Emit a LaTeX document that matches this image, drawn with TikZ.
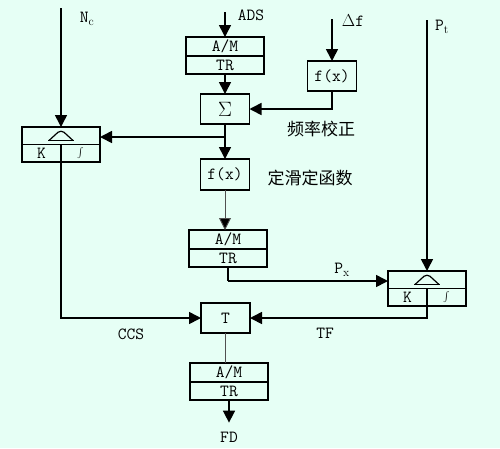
\documentclass[tikz,border=0pt]{standalone}
\usepackage{fontspec}
\usetikzlibrary{arrows.meta}
\newfontfamily\cjkf{Noto Sans CJK SC}
\definecolor{bg}{RGB}{230,255,245}
\definecolor{thinc}{RGB}{80,80,80}
\tikzset{
  box/.style={draw, line width=1.5pt, inner sep=0pt, outer sep=0pt, font=\ttfamily\fontsize{17}{17}\selectfont},
  wide/.style={minimum width=78pt},
  half/.style={minimum width=39pt, minimum height=17.5pt},
  small/.style={minimum width=49pt, minimum height=30pt},
  lbl/.style={inner sep=1pt, font=\ttfamily\fontsize{17}{17}\selectfont},
  cjk/.style={inner sep=1pt, font=\cjkf\fontsize{17}{17}\selectfont},
  ln/.style={line width=1.6pt},
  arr/.style={line width=1.6pt, -{Triangle[width=12pt,length=12pt]}},
  thinarr/.style={line width=0.9pt, draw=thinc, -{Triangle[width=12pt,length=12pt,fill=black]}},
  thinln/.style={line width=0.9pt, draw=thinc},
  hat/.style={line width=1.2pt}
}
\begin{document}
\begin{tikzpicture}[x=1pt,y=-1pt]
\fill[bg] (0,0) rectangle (500,448);
\useasboundingbox (0,0) rectangle (500,448);

% middle column
\node[box, wide, minimum height=19pt] (A1) at (225,46.5) {A/M};
\node[box, wide, minimum height=18pt] (A2) at (225,65) {TR};
\node[box, small, font=\fontsize{20}{20}\selectfont] (S) at (225,109) {$\Sigma$};
\node[box, small, minimum height=31pt] (F2) at (225,174.5) {f(x)};
\node[box, wide, minimum height=19pt] (M1) at (228,239.5) {A/M};
\node[box, wide, minimum height=18pt] (M2) at (228,258) {TR};
\node[box, small] (T) at (225.5,318) {T};
\node[box, wide, minimum height=19pt] (B1) at (229,372.5) {A/M};
\node[box, wide, minimum height=18pt] (B2) at (229,391) {TR};
\node[lbl] (FD) at (229,437) {FD};

% frequency correction block
\node[box, small] (F1) at (332,76) {f(x)};

% left integrator
\node[box, wide, minimum height=17.5pt] (Lt) at (61,135.75) {};
\node[box, half] (LK) at (41.5,153.25) {K};
\node[box, half, font=\fontsize{17}{17}\selectfont] (LI) at (80.5,153.25) {$\int$};

% right integrator
\node[box, wide, minimum height=17.5pt] (Rt) at (427,279.75) {};
\node[box, half] (RK) at (407.5,297.25) {K};
\node[box, half, font=\fontsize{17}{17}\selectfont] (RI) at (446.5,297.25) {$\int$};

% hats
\foreach \n in {Lt,Rt}{
  \draw[hat] ([shift={(-13,4.75)}]\n.center) -- ([shift={(13,4.75)}]\n.center);
  \draw[hat] ([shift={(-12,4.75)}]\n.center) -- ([shift={(-3,-3.5)}]\n.center)
     .. controls ([shift={(-1,-4.8)}]\n.center) and ([shift={(1,-4.8)}]\n.center) .. ([shift={(3,-3.5)}]\n.center) -- ([shift={(12,4.75)}]\n.center);
}

% labels
\node[lbl] (nc) at (87,19) {N$_{\mathrm{c}}$};
\node[lbl] (ads) at (251,15) {ADS};
\node[lbl] (df) at (353,21) {$\Delta$f};
\node[lbl] (pt) at (442,27) {P$_{\mathrm{t}}$};
\node[lbl] (px) at (342,270) {P$_{\mathrm{x}}$};
\node[lbl] (ccs) at (131,334) {CCS};
\node[lbl] (tf) at (325,333) {TF};
\node[cjk] (fc) at (321,129) {频率校正};
\node[cjk] (hf) at (310,178) {定滑定函数};

% connectors
\coordinate (ncs) at (61,8);
\draw[arr] (ncs) -- (Lt.north);
\coordinate (adss) at (225,12);
\draw[arr] (adss) -- (A1.north);
\draw[arr] (A2.south) -- (S.north);
\coordinate (j1) at (225,137);
\draw[ln] (S.south) -- (j1);
\draw[arr] (j1) -- (F2.north);
\draw[arr] (j1) -- (j1 -| Lt.east);
\coordinate (dfs) at (332,19);
\draw[arr] (dfs) -- (F1.north);
\draw[arr] (F1.south) |- (S.east);
\draw[thinarr] (F2.south) -- (F2.south |- M1.north);
\coordinate (j2) at (228,281);
\draw[ln] (M2.south) -- (j2);
\draw[arr] (j2) -- (j2 -| Rt.west);
\coordinate (pts) at (427,20);
\draw[arr] (pts) -- (Rt.north);
\draw[arr] (LK.south east) |- (T.west);
\draw[arr] (RK.south east) |- (T.east);
\draw[thinln] (T.south) -- (T.south |- B1.north);
\draw[arr, shorten >=8pt] (B2.south) -- (FD.north);
\end{tikzpicture}
\end{document}
